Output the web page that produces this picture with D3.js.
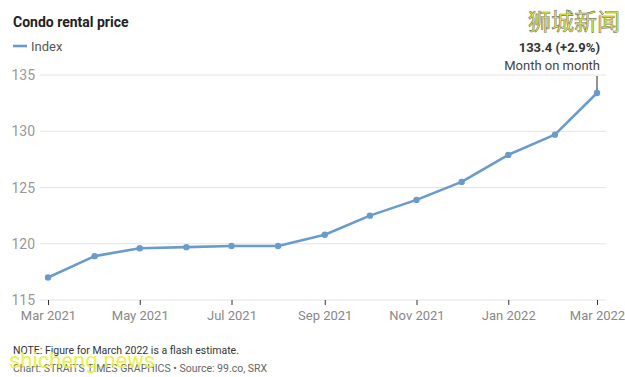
<!DOCTYPE html>
<html>
<head>
<meta charset="utf-8">
<script src="https://cdn.jsdelivr.net/npm/d3@7"></script>
<style>
  body { margin: 0; background: #fff; }
  svg { font-family: Roboto, "Liberation Sans", sans-serif; }
</style>
</head>
<body>
<div id="chart"></div>
<script>
const months = ["2021-03", "2021-04", "2021-05", "2021-06", "2021-07", "2021-08", "2021-09",
  "2021-10", "2021-11", "2021-12", "2022-01", "2022-02", "2022-03"];
const indexValues = [117.0, 118.9, 119.6, 119.7, 119.8, 119.8, 120.8, 122.5, 123.9, 125.5, 127.9, 129.7, 133.4];
const yTicks = [115, 120, 125, 130, 135];
const xTickMonths = ["2021-03", "2021-05", "2021-07", "2021-09", "2021-11", "2022-01", "2022-03"];

const width = 625, height = 377;
const parse = d3.timeParse("%Y-%m");
const data = months.map((m, i) => ({ date: parse(m), value: indexValues[i] }));

const svg = d3.select("#chart").append("svg")
  .attr("width", width)
  .attr("height", height);

const x = d3.scaleTime()
  .domain(d3.extent(data, d => d.date))
  .range([48, 597]);

const y = d3.scaleLinear()
  .domain([115, 135])
  .range([300, 75]);

// gridlines
svg.append("g")
  .selectAll("line")
  .data(yTicks)
  .join("line")
  .attr("x1", 40)
  .attr("x2", 606)
  .attr("y1", d => y(d))
  .attr("y2", d => y(d))
  .style("stroke", "#e4e4e8")
  .style("stroke-width", 1);

// y labels
svg.append("g")
  .selectAll("text")
  .data(yTicks)
  .join("text")
  .attr("x", 35)
  .attr("y", d => y(d) + 5)
  .attr("text-anchor", "end")
  .style("font-size", "14px")
  .style("fill", "#999")
  .text(d => d);

// x axis
const xAxis = d3.axisBottom(x)
  .tickValues(xTickMonths.map(parse))
  .tickFormat(d3.timeFormat("%b %Y"))
  .tickSize(5)
  .tickPadding(6);

const gx = svg.append("g")
  .attr("transform", `translate(0, ${y(115)})`)
  .call(xAxis);
gx.select(".domain").remove();
gx.selectAll(".tick line").style("stroke", "#333");
gx.selectAll(".tick text")
  .style("font-size", "13px")
  .style("fill", "#888")
  .style("font-family", "Roboto, sans-serif");

// line
const line = d3.line()
  .x(d => x(d.date))
  .y(d => y(d.value));

svg.append("path")
  .datum(data)
  .attr("d", line)
  .style("fill", "none")
  .style("stroke", "#6a9bcd")
  .style("stroke-width", 2.6)
  .style("stroke-linejoin", "round");

svg.append("g")
  .selectAll("circle")
  .data(data)
  .join("circle")
  .attr("cx", d => x(d.date))
  .attr("cy", d => y(d.value))
  .attr("r", 3.2)
  .style("fill", "#6a9bcd");

// annotation
const last = data[data.length - 1];
svg.append("line")
  .attr("x1", x(last.date))
  .attr("x2", x(last.date))
  .attr("y1", 76)
  .attr("y2", y(last.value) - 3)
  .style("stroke", "#222")
  .style("stroke-width", 1);

svg.append("text")
  .attr("x", 600)
  .attr("y", 52)
  .attr("text-anchor", "end")
  .style("font-size", "13px")
  .style("font-weight", "bold")
  .style("fill", "#333")
  .text("133.4 (+2.9%)");

svg.append("text")
  .attr("x", 600)
  .attr("y", 70)
  .attr("text-anchor", "end")
  .style("font-size", "13px")
  .style("fill", "#444")
  .text("Month on month");

// title and legend
svg.append("text")
  .attr("x", 13)
  .attr("y", 27)
  .style("font-size", "14px")
  .style("font-weight", "bold")
  .style("fill", "#222")
  .text("Condo rental price");

svg.append("line")
  .attr("x1", 13).attr("x2", 27)
  .attr("y1", 46).attr("y2", 46)
  .style("stroke", "#6a9bcd")
  .style("stroke-width", 2.6);

svg.append("text")
  .attr("x", 31)
  .attr("y", 51)
  .style("font-size", "13px")
  .style("fill", "#555")
  .text("Index");

// footer
svg.append("text")
  .attr("x", 13)
  .attr("y", 354)
  .style("font-size", "10.5px")
  .style("fill", "#333")
  .text("NOTE: Figure for March 2022 is a flash estimate.");

svg.append("text")
  .attr("x", 13)
  .attr("y", 372)
  .style("font-size", "10.5px")
  .style("fill", "#666")
  .text("Chart: STRAITS TIMES GRAPHICS • Source: 99.co, SRX");

// watermarks
svg.append("text")
  .attr("x", 9)
  .attr("y", 368)
  .style("font-size", "22px")
  .style("fill", "#e8f03a")
  .style("opacity", 0.9)
  .text("shicheng.news");

svg.append("text")
  .attr("x", 528)
  .attr("y", 30)
  .style("font-size", "23px")
  .style("font-family", "'Noto Sans CJK SC', sans-serif")
  .style("fill", "#f2f52a")
  .style("stroke", "#777")
  .style("stroke-width", 0.6)
  .text("狮城新闻");
</script>
</body>
</html>
